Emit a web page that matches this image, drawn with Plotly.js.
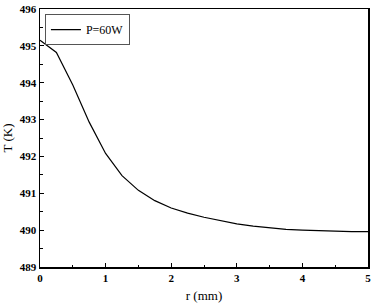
<!DOCTYPE html>
<html>
<head>
<meta charset="utf-8">
<script src="https://cdn.plot.ly/plotly-3.0.1.min.js"></script>
<style>html,body{margin:0;padding:0;background:#fff;}#chart{width:373px;height:308px;}</style>
</head>
<body>
<div id="chart"></div>
<script>
const seriesName = "P=60W";
const radius = [0, 0.25, 0.5, 0.75, 1.0, 1.25, 1.5, 1.75, 2.0, 2.25, 2.5, 2.75, 3.0, 3.25, 3.5, 3.75, 4.0, 4.25, 4.5, 4.75, 5.0];
const temperature = [495.15, 494.82, 493.94, 492.93, 492.08, 491.48, 491.08, 490.80, 490.60, 490.46, 490.35, 490.25, 490.17, 490.11, 490.06, 490.02, 490.00, 489.98, 489.97, 489.96, 489.96];
const xTicks = [0, 1, 2, 3, 4, 5];
const yTicks = [489, 490, 491, 492, 493, 494, 495, 496];

const font = {family: "Liberation Serif", color: "#000"};
const trace = {
  x: radius, y: temperature, type: "scatter", mode: "lines", name: seriesName,
  line: {color: "#000", width: 1.2}
};
const axisCommon = {
  showgrid: false, zeroline: false, showline: true, linecolor: "#000", linewidth: 1.5,
  mirror: true, ticks: "inside", ticklen: 4, tickwidth: 1.2, tickcolor: "#000",
  tickfont: Object.assign({size: 11, weight: 600}, font),
  minor: {ticks: "inside", ticklen: 2.5, tickwidth: 1, tickcolor: "#000", dtick: 0.5}
};
const layout = {
  width: 373, height: 308,
  margin: {l: 40, r: 5, t: 9, b: 41},
  paper_bgcolor: "#fff", plot_bgcolor: "#fff",
  font: font,
  showlegend: true,
  legend: {
    x: 0.015, y: 0.98, xanchor: "left", yanchor: "top",
    bordercolor: "#555", borderwidth: 1, bgcolor: "#fff",
    font: Object.assign({size: 12}, font),
    tracegroupgap: 0, itemwidth: 30
  },
  xaxis: Object.assign({}, axisCommon, {
    range: [0, 5], tickvals: xTicks, ticktext: xTicks.map(String),
    title: {text: "r (mm)", font: Object.assign({size: 13}, font), standoff: 8}
  }),
  yaxis: Object.assign({}, axisCommon, {
    range: [489, 496], tickvals: yTicks, ticktext: yTicks.map(String),
    title: {text: "T (K)", font: Object.assign({size: 13}, font), standoff: 4}
  })
};
Plotly.newPlot("chart", [trace], layout, {staticPlot: true, displayModeBar: false});
</script>
</body>
</html>
